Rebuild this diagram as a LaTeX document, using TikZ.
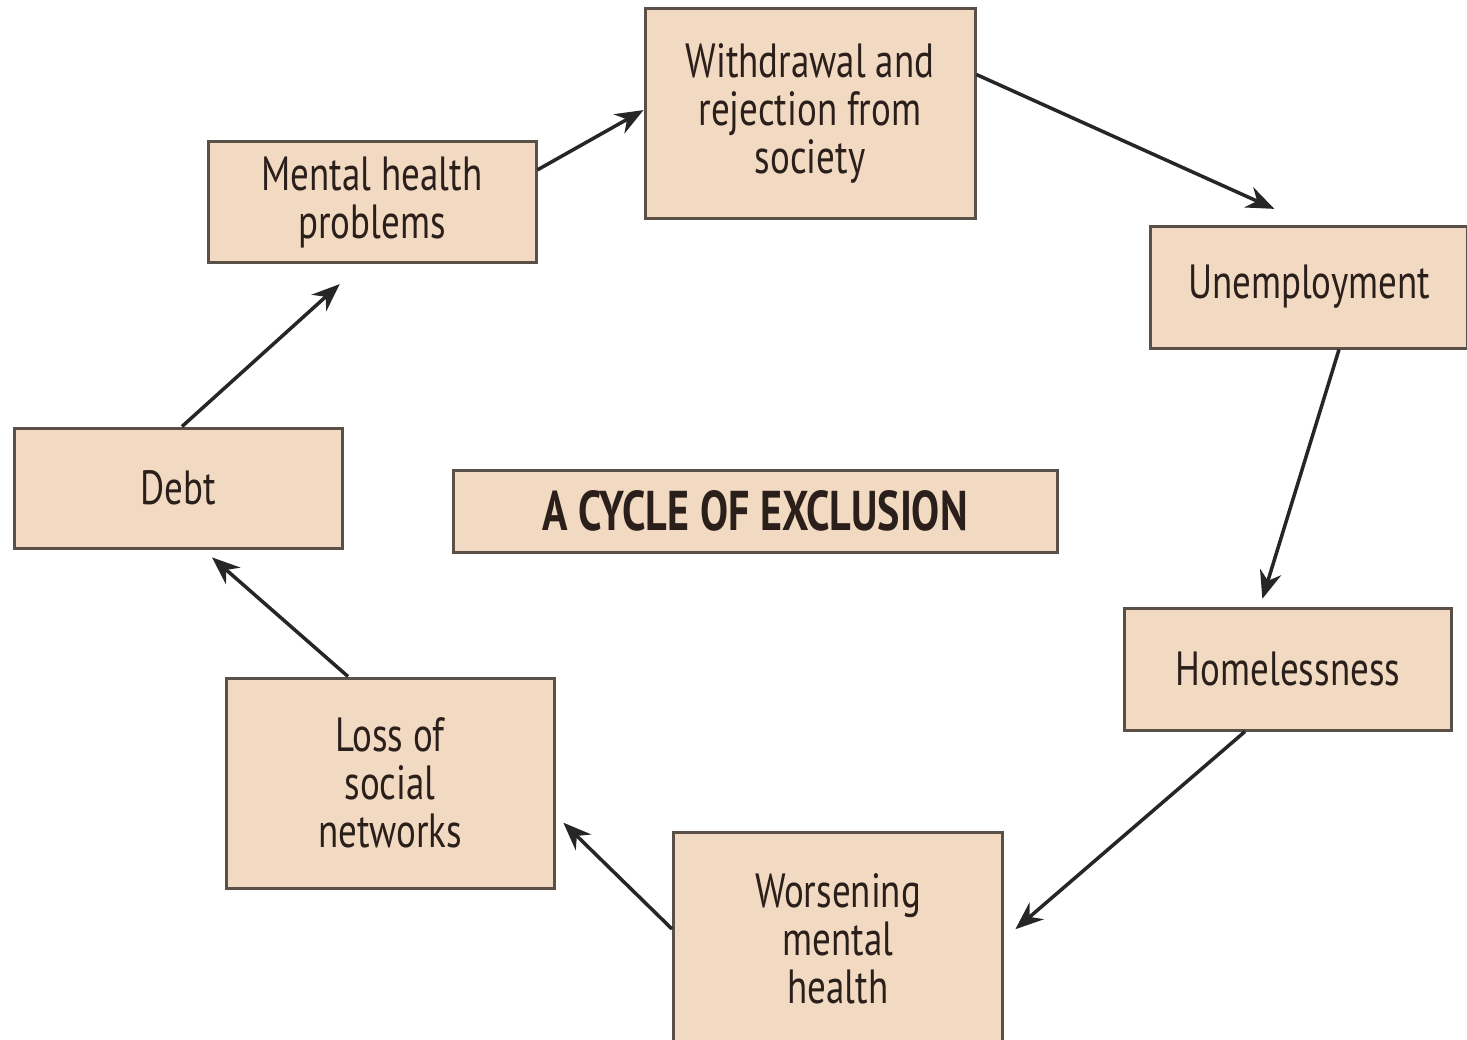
\documentclass[tikz,border=0pt]{standalone}
\usepackage{fontspec}
\setmainfont{PT Sans}[FakeStretch=0.77]
\newfontfamily\titlefont{PT Sans}[FakeStretch=0.75]
\usetikzlibrary{arrows.meta,calc}
\definecolor{peach}{HTML}{F2D9C1}
\definecolor{rim}{HTML}{5A5048}
\definecolor{ink}{HTML}{2A1F1A}

\begin{document}
\begin{tikzpicture}[x=1pt,y=-1pt,
    box/.style={draw=rim, fill=peach, line width=3pt, align=center,
      text=ink, font=\fontsize{48}{48}\selectfont, inner sep=0pt},
    arr/.style={draw=black!85, line width=3.5pt,
      -{Stealth[length=28pt,width=22pt]}}]
        \clip (0,0) rectangle (1467,1039);
        \fill[white] (0,0) rectangle (1467,1039);
        \node[box, minimum width=330pt, minimum height=210pt] (withdraw) at (810,113) {Withdrawal and\\rejection from\\society};
        \node[box, minimum width=328pt, minimum height=121pt] (mental) at (372,202) {Mental health\\problems};
        \node[box, minimum width=317pt, minimum height=122pt] (unemp) at (1309,287) {Unemployment};
        \node[box, minimum width=328pt, minimum height=120pt] (debt) at (178,488) {Debt};
        \node[box, minimum width=604pt, minimum height=82pt,
          font=\fontsize{56}{56}\titlefont\bfseries] (title) at (755,511) {A CYCLE OF EXCLUSION};
        \node[box, minimum width=327pt, minimum height=122pt] (homeless) at (1288,669) {Homelessness};
        \node[box, minimum width=328pt, minimum height=210pt] (loss) at (390,783) {Loss of\\social\\networks};
        \node[box, minimum width=329pt, minimum height=214pt] (worsen) at (838,939) {Worsening\\mental\\health};
        % the cycle
        \draw[arr] (mental.11) -- (withdraw.179);
        \draw[arr, shorten >=38pt] (withdraw.13) -- (unemp.north);
        \draw[arr, shorten >=8pt] ($(unemp.south)+(30,0)$) -- ($(homeless.north)+(-28,0)$);
        \draw[arr, shorten >=15pt] ($(homeless.south)+(-43,0)$) -- (worsen.east);
        \draw[arr, shorten >=11pt] ($(worsen.west)+(0,-10)$) -- ($(loss.east)+(0,32)$);
        \draw[arr, shorten >=12pt] ($(loss.north)+(-42,0)$) -- ($(debt.south)+(25,0)$);
        \draw[arr, shorten >=30pt] ($(debt.north)+(4,0)$) -- ($(mental.south)+(-10,0)$);
\end{tikzpicture}
\end{document}
